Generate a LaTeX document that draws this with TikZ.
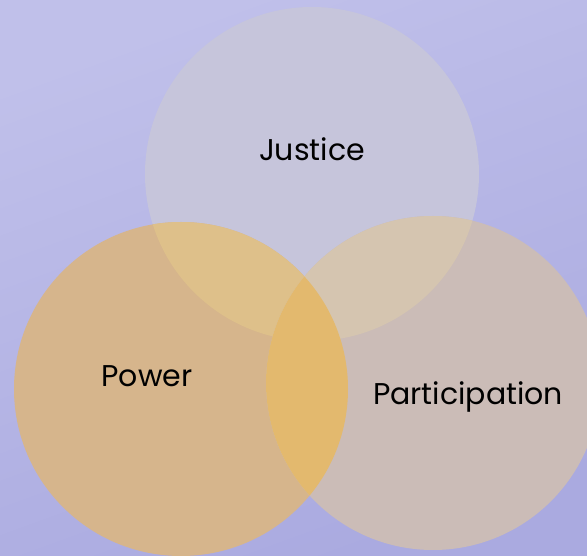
\documentclass[tikz,border=0pt]{standalone}
\usepackage{fontspec}
\setmainfont{Poppins}
\begin{document}
\begin{tikzpicture}[x=1pt,y=-1pt]
\definecolor{bgA}{RGB}{192,192,234}
\definecolor{bgB}{RGB}{170,170,224}
\definecolor{cT}{RGB}{198,197,219}
\definecolor{cL}{RGB}{214,181,140}
\definecolor{cR}{RGB}{203,188,183}
\definecolor{cTL}{RGB}{222,192,138}
\definecolor{cTR}{RGB}{213,197,176}
\definecolor{cLR}{RGB}{227,185,110}
\tikzset{lbl/.style={font=\fontsize{30}{36}\selectfont, text=black, inner sep=0pt}}
\useasboundingbox (0,0) rectangle (587,556);
\shade[top color=bgA, bottom color=bgB, shading angle=20] (0,0) rectangle (587,556);
\coordinate (T) at (312,174);
\coordinate (L) at (181,389);
\coordinate (R) at (433,383);
\def\rad{167}
\begin{scope}
\clip (0,0) rectangle (587,556);
\fill[cT] (T) circle (\rad);
\fill[cL] (L) circle (\rad);
\fill[cR] (R) circle (\rad);
\begin{scope}
\clip (T) circle (\rad);
\fill[cTL] (L) circle (\rad);
\fill[cTR] (R) circle (\rad);
\end{scope}
\begin{scope}
\clip (L) circle (\rad);
\fill[cLR] (R) circle (\rad);
\end{scope}
\end{scope}
\node[lbl, anchor=base] (justice) at (312,161) {Justice};
\node[lbl, anchor=base] (power) at (147,387) {Power};
\node[lbl, anchor=base] (participation) at (468,404) {Participation};
\end{tikzpicture}
\end{document}
